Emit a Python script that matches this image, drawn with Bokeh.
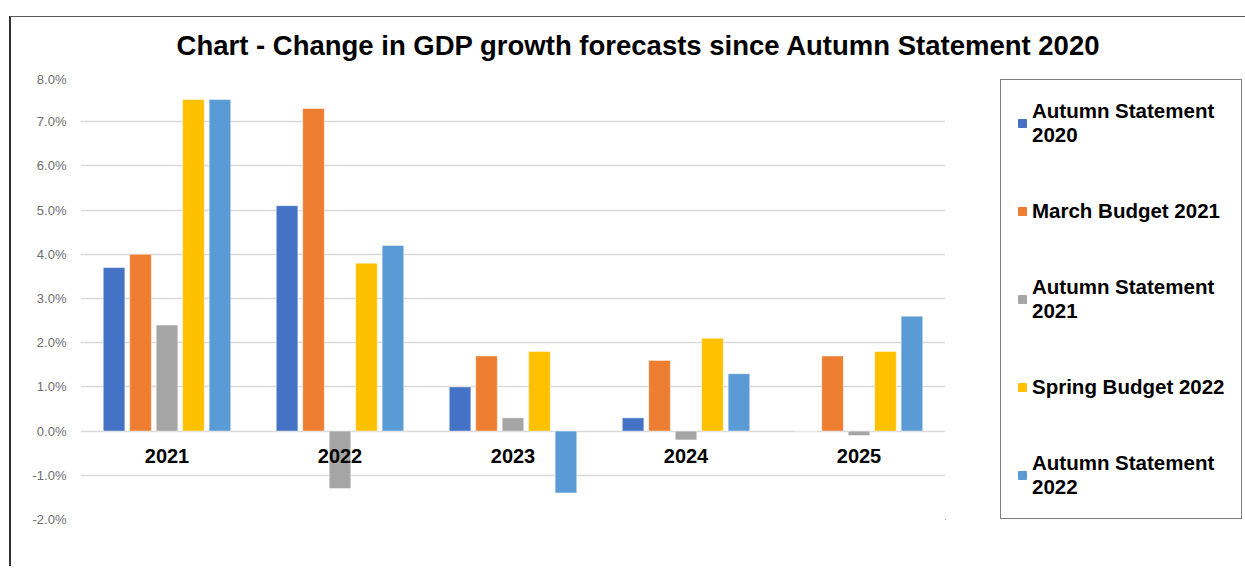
from bokeh.plotting import figure
from bokeh.models import (ColumnDataSource, FactorRange, Legend, LegendItem, Div, Row, Column,
                          FixedTicker, CustomJSTickFormatter)
from bokeh.transform import dodge
from bokeh.core.properties import value
from bokeh.embed import file_html
from bokeh.resources import INLINE

years = ["2021", "2022", "2023", "2024", "2025"]
series_names = ["Autumn Statement\n2020", "March Budget 2021", "Autumn Statement\n2021",
                "Spring Budget 2022", "Autumn Statement\n2022"]
as2020 = [3.7, 5.1, 1.0, 0.3, 0.0]
mb2021 = [4.0, 7.3, 1.7, 1.6, 1.7]
as2021 = [2.4, -1.3, 0.3, -0.2, -0.1]
sb2022 = [7.5, 3.8, 1.8, 2.1, 1.8]
as2022 = [7.5, 4.2, -1.4, 1.3, 2.6]
y_ticks = [-2, -1, 0, 1, 2, 3, 4, 5, 6, 7, 8]
title_text = "Chart - Change in GDP growth forecasts since Autumn Statement 2020"

colors = ["#4472C4", "#ED7D31", "#A5A5A5", "#FFC000", "#5B9BD5"]
keys = ["as2020", "mb2021", "as2021", "sb2022", "as2022"]
src = ColumnDataSource(dict(years=years, as2020=as2020, mb2021=mb2021, as2021=as2021,
                            sb2022=sb2022, as2022=as2022, zero=[0] * len(years)))

TOTAL_W = 1234
TITLE_H = 44
FIG_H = 495

title_div = Div(text=title_text, width=TOTAL_W, height=TITLE_H,
                styles={"font-family": "Liberation Sans, Arial, sans-serif", "font-size": "27.5px",
                        "font-weight": "bold", "color": "black", "text-align": "center",
                        "line-height": "48px", "padding-left": "10px", "white-space": "nowrap"})

p = figure(width=934, height=FIG_H, x_range=FactorRange(*years), y_range=(-2, 8),
           output_backend="svg", toolbar_location=None,
           min_border_left=69, min_border_right=0, min_border_top=6, min_border_bottom=47)
p.outline_line_color = None
p.xaxis.visible = False
p.xgrid.grid_line_color = None
p.ygrid.grid_line_color = "#d9d9d9"
p.ygrid.grid_line_width = 1.5
p.yaxis.ticker = FixedTicker(ticks=y_ticks)
p.yaxis.formatter = CustomJSTickFormatter(code="return tick.toFixed(1) + '%';")
p.yaxis.axis_line_color = None
p.yaxis.major_tick_line_color = None
p.yaxis.minor_tick_line_color = None
p.yaxis.major_label_text_font = "Liberation Sans"
p.yaxis.major_label_text_font_size = "13px"
p.yaxis.major_label_text_color = "#6e6e6e"
p.yaxis.major_label_standoff = 8

offsets = [-0.306, -0.153, 0.0, 0.153, 0.306]
for k, c, off in zip(keys, colors, offsets):
    p.vbar(x=dodge("years", off, range=p.x_range), top=k, bottom=0, width=0.125,
           source=src, fill_color=c, line_color="white", line_width=0.8, line_alpha=0.6)

p.text(x="years", y="zero", text="years", source=src, text_align="center",
       text_baseline="middle", y_offset=25, text_font=value("Liberation Sans"),
       text_font_style="bold", text_font_size="20px", text_color="black")

# legend panel (dummy, out-of-view swatch renderers only carry the legend colours)
lf = figure(width=TOTAL_W - 934, height=FIG_H, x_range=(0, 1), y_range=(0, 1),
            x_axis_type=None, y_axis_type=None,
            output_backend="svg", toolbar_location=None, min_border=0)
lf.outline_line_color = None
lf.grid.grid_line_color = None
leg_renderers = [lf.vbar(x=[-5], top=[-5], bottom=[-5], width=0.1, fill_color=c, line_color=c)
                 for c in colors]
legend = Legend(items=[LegendItem(label=n, renderers=[r]) for n, r in zip(series_names, leg_renderers)],
                location=(55, 0), orientation="vertical", margin=0, padding=16,
                spacing=34, label_height=54, glyph_width=10, glyph_height=10, label_standoff=5,
                label_text_font="Liberation Sans", label_text_font_style="bold",
                label_text_font_size="20.5px", label_text_color="black",
                border_line_color="black", border_line_width=1.5, background_fill_alpha=1)
lf.add_layout(legend, "center")

layout = Column(children=[title_div, Row(children=[p, lf], spacing=0)], spacing=0,
                styles={"position": "absolute", "left": "9px", "top": "16px",
                        "border-left": "2px solid #333333", "border-top": "1px solid #5a5a5a"})

open("out.html", "w").write(file_html(layout, INLINE))
